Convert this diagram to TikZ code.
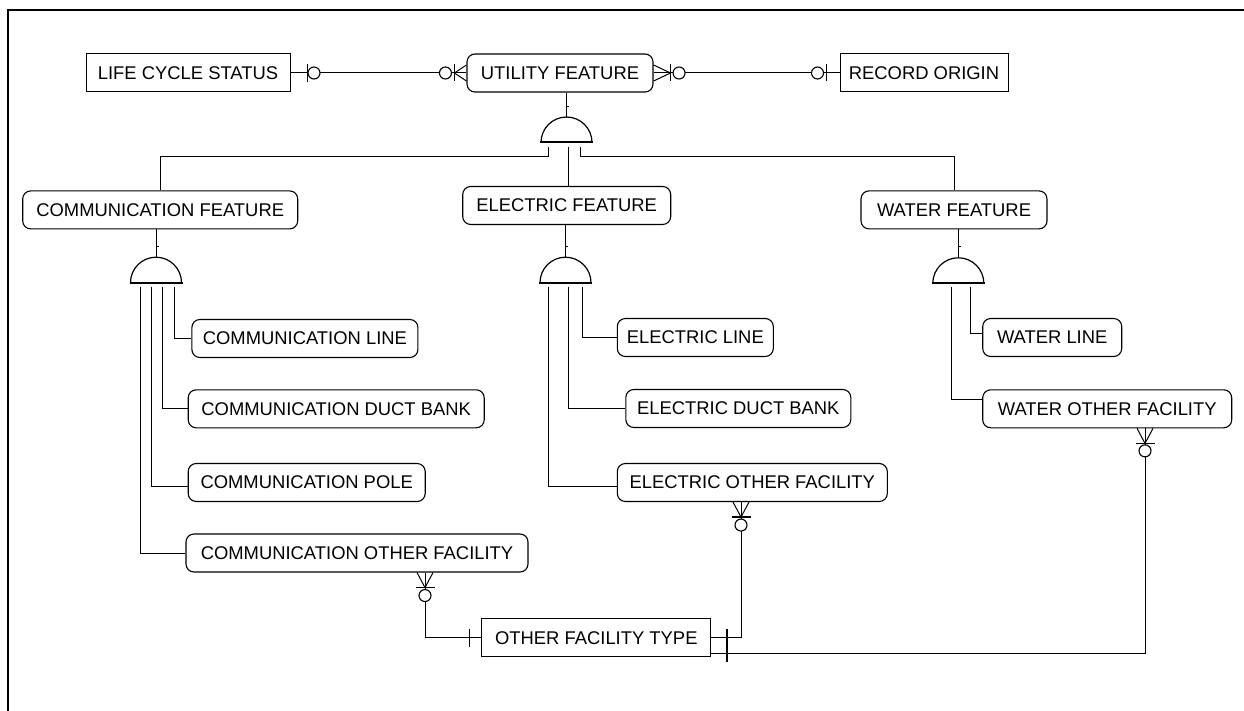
\documentclass[tikz,border=0pt]{standalone}
\usepackage{fontspec}
\setmainfont{Liberation Sans}
\usetikzlibrary{calc}
\tikzset{
  ent/.style={draw, line width=1.1pt, rounded corners=8pt, minimum height=38pt, inner sep=0pt, font=\fontsize{18.4}{22}\selectfont},
  sqent/.style={ent, rounded corners=0pt, line width=1pt},
  ln/.style={line width=1pt},
  erbar/.style={line width=1.2pt},
  erring/.style={line width=1.1pt, fill=white},
  dome/.pic={\draw[line width=1.2pt] (-25.5,0) arc (180:360:25.5);
             \draw[line width=2pt] (-26.5,0) -- (26.5,0);}
}
\begin{document}
\begin{tikzpicture}[x=1pt,y=-1pt]
\useasboundingbox (0,0) rectangle (1244,711);
% frame
\draw[line width=2pt] (8,720) -- (8,10) -- (1252,10);

% entities
\node[sqent, minimum width=204pt] (lcs) at (188,73) {LIFE CYCLE STATUS};
\node[ent, minimum width=186pt] (uf) at (560,73) {UTILITY FEATURE};
\node[sqent, minimum width=168pt] (ro) at (924,73) {RECORD ORIGIN};
\node[ent, minimum width=275pt] (cf) at (160.2,209.9) {COMMUNICATION FEATURE};
\node[ent, minimum width=208pt] (ef) at (566.7,205.5) {ELECTRIC FEATURE};
\node[ent, minimum width=186pt] (wf) at (954,209.9) {WATER FEATURE};
\node[ent, minimum width=226pt] (cl) at (304.9,338.5) {COMMUNICATION LINE};
\node[ent, minimum width=296pt] (cdb) at (336.2,408.8) {COMMUNICATION DUCT BANK};
\node[ent, minimum width=237pt] (cp) at (306.7,482.5) {COMMUNICATION POLE};
\node[ent, minimum width=342pt] (cof) at (357,553) {COMMUNICATION OTHER FACILITY};
\node[ent, minimum width=156pt] (el) at (695.3,337.5) {ELECTRIC LINE};
\node[ent, minimum width=225pt] (edb) at (738.3,408.5) {ELECTRIC DUCT BANK};
\node[ent, minimum width=270pt] (eof) at (752.3,482.5) {ELECTRIC OTHER FACILITY};
\node[ent, minimum width=139pt] (wl) at (1052.2,337.5) {WATER LINE};
\node[ent, minimum width=249pt] (wof) at (1107.2,408.8) {WATER OTHER FACILITY};
\node[sqent, minimum width=229pt] (oft) at (596.3,637.8) {OTHER FACILITY TYPE};

% LCS -- UF
\draw[ln] (lcs.east) -- (uf.west);
\draw[erbar] ($(lcs.east)+(17,-9)$) -- ++(0,18);
\draw[erring] ($(lcs.east)+(23.5,0)$) circle (6);
\draw[ln] ($(uf.west)+(-12,0)$) -- ($(uf.west)+(0,-8)$)
          ($(uf.west)+(-12,0)$) -- ($(uf.west)+(0,8)$);
\draw[erbar] ($(uf.west)+(-12,-8.5)$) -- ++(0,17);
\draw[erring] ($(uf.west)+(-21,0)$) circle (6);

% UF -- RO
\draw[ln] (uf.east) -- (ro.west);
\draw[ln] ($(uf.east)+(17,0)$) -- ($(uf.east)+(0,-8)$)
          ($(uf.east)+(17,0)$) -- ($(uf.east)+(0,8)$);
\draw[erbar] ($(uf.east)+(17,-8.5)$) -- ++(0,17);
\draw[erring] ($(uf.east)+(25.5,0)$) circle (6);
\draw[erbar] ($(ro.west)+(-13,-8.5)$) -- ++(0,17);
\draw[erring] ($(ro.west)+(-22,0)$) circle (6);

% subtype symbol 1 (utility feature)
\coordinate (d1) at (566.5,142.5);
\draw[ln] (uf.south -| d1) -- ++(0,25);
\draw[ln] (566.5,106.7) -- ++(2.5,0);
\pic at (d1) {dome};
\coordinate (d1l) at (548.3,147);
\coordinate (d1m) at (568.3,147);
\coordinate (d1r) at (580,147);
\draw[ln] (d1l) -- ++(0,10) -| (cf.north);
\draw[ln] (d1m) -- (d1m |- ef.north);
\draw[ln] (d1r) -- ++(0,10) -| (wf.north);

% subtype symbol 2 (communication)
\coordinate (d2) at (156,282.7);
\draw[ln] (cf.south -| d2) -- ++(0,28.3);
\draw[ln] (156,246.7) -- ++(2.5,0);
\pic at (d2) {dome};
\draw[ln] (174,286.7) |- (cl.west);
\draw[ln] (162.7,286.7) |- (cdb.west);
\draw[ln] (151.7,286.7) |- ($(cp.west)+(0,4)$);
\draw[ln] (140,286.7) |- (cof.west);

% subtype symbol 3 (electric)
\coordinate (d3) at (565.5,282.7);
\draw[ln] (ef.south -| d3) -- ++(0,32.7);
\draw[ln] (565.5,246.5) -- ++(2.5,0);
\pic at (d3) {dome};
\draw[ln] (582.7,286.7) |- (el.west);
\draw[ln] (568.3,286.7) |- (edb.west);
\draw[ln] (548.3,286.7) |- ($(eof.west)+(0,4)$);

% subtype symbol 4 (water)
\coordinate (d4) at (958.3,283.3);
\draw[ln] (wf.south -| d4) -- ++(0,28.9);
\draw[ln] (958.3,247) -- ++(2.5,0);
\pic at (d4) {dome};
\draw[ln] (970.7,287.3) |- ($(wl.west)+(0,-4)$);
\draw[ln] (951.7,287.3) |- ($(wof.west)+(0,-9)$);

% COF -- OFT
\coordinate (cofb) at ($(cof.south)+(68,0)$);
\draw[ln] (cofb) |- (oft.west);
\draw[ln] ($(cofb)+(-8,0)$) -- ($(cofb)+(0,15)$) -- ($(cofb)+(8,0)$);
\draw[erbar] ($(cofb)+(-9.5,15)$) -- ++(19,0);
\draw[erring] ($(cofb)+(0,23)$) circle (6);
\draw[erbar] ($(oft.west)+(-12,-9)$) -- ++(0,18);

% EOF -- OFT
\coordinate (eofb) at ($(eof.south)+(-11.3,0)$);
\draw[ln] (eofb) |- (oft.east);
\draw[ln] ($(eofb)+(-8,0)$) -- ($(eofb)+(0,15)$) -- ($(eofb)+(8,0)$);
\draw[erbar] ($(eofb)+(-9.5,15)$) -- ++(19,0);
\draw[erring] ($(eofb)+(0,23)$) circle (6);
\draw[erbar] ($(oft.east)+(15.7,-9)$) -- ++(0,18);

% WOF -- OFT
\coordinate (wofb) at ($(wof.south)+(37.8,0)$);
\coordinate (oftl) at ($(oft.east)+(0,15.5)$);
\draw[ln] (wofb) |- (oftl);
\draw[ln] ($(wofb)+(-8,0)$) -- ($(wofb)+(0,15)$) -- ($(wofb)+(8,0)$);
\draw[erbar] ($(wofb)+(-9.5,15)$) -- ++(19,0);
\draw[erring] ($(wofb)+(0,22.5)$) circle (6);
\draw[erbar] ($(oftl)+(15.7,-9)$) -- ++(0,18);
\end{tikzpicture}
\end{document}
